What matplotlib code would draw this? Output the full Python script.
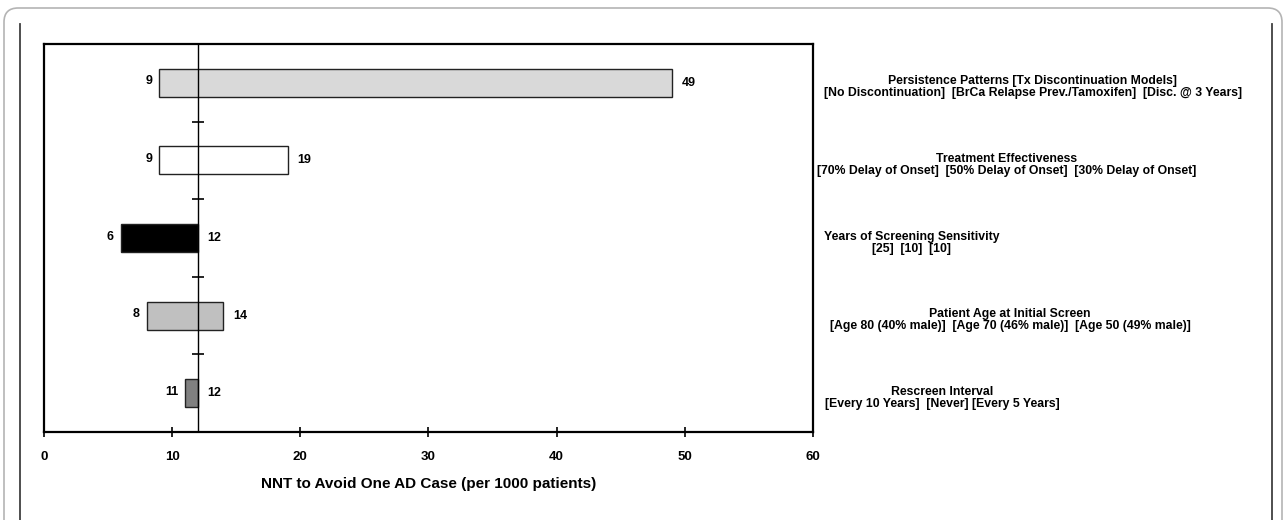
import matplotlib
matplotlib.use("Agg")
import matplotlib.pyplot as plt
import matplotlib.transforms as mtrans
from matplotlib.patches import FancyBboxPatch
from matplotlib.lines import Line2D

# data
baseline = 12
low_vals = [9, 9, 6, 8, 11]
high_vals = [49, 19, 12, 14, 12]
left_labels = ["9", "9", "6", "8", "11"]
right_labels = ["49", "19", "12", "14", "12"]
bar_colors = ["#d9d9d9", "#ffffff", "#000000", "#c0c0c0", "#808080"]
titles = ["Persistence Patterns [Tx Discontinuation Models]",
          "Treatment Effectiveness",
          "Years of Screening Sensitivity",
          "Patient Age at Initial Screen",
          "Rescreen Interval"]
subtitles = ["[No Discontinuation]  [BrCa Relapse Prev./Tamoxifen]  [Disc. @ 3 Years]",
             "[70% Delay of Onset]  [50% Delay of Onset]  [30% Delay of Onset]",
             "[25]  [10]  [10]",
             "[Age 80 (40% male)]  [Age 70 (46% male)]  [Age 50 (49% male)]",
             "[Every 10 Years]  [Never] [Every 5 Years]"]
label_x = [1033, 1007, 912, 1010, 942]   # text centre, pixels
xticks = [0, 10, 20, 30, 40, 50, 60]
xlabel = "NNT to Avoid One AD Case (per 1000 patients)"

plt.rcParams['font.family'] = ['Liberation Sans', 'DejaVu Sans']
plt.rcParams['font.weight'] = 'bold'

W, H = 1286, 520
fig = plt.figure(figsize=(W / 100, H / 100), dpi=100)
ax = fig.add_axes([44 / W, 1 - 432 / H, (813 - 44) / W, (432 - 44) / H])

# outer rounded frame and inner panel lines
fig.patches.append(FancyBboxPatch((4 / W, -0.1), (W - 8) / W, 1.1 - 8 / H,
                                  boxstyle="round,pad=0,rounding_size=0.011",
                                  transform=fig.transFigure, fill=False,
                                  ec="#b4b4b4", lw=1.2, mutation_aspect=W / H))
for px in (20, 1272):
    fig.lines.append(Line2D([px / W, px / W], [0, 1 - 24 / H], transform=fig.transFigure,
                            color="#404040", lw=1.3))

ypos = list(range(len(low_vals)))
widths = [h - l for l, h in zip(low_vals, high_vals)]
ax.barh(ypos, widths, left=low_vals, height=0.36, color=bar_colors,
        edgecolor="#222222", linewidth=1, zorder=2)

ax.axvline(baseline, color="black", lw=1, zorder=3)
ax.plot([baseline] * (len(ypos) - 1), [y + 0.5 for y in ypos[:-1]], ls="none",
        marker="_", markersize=8, color="black", mew=1.2, zorder=3)

for y, lo, hi, ll, rl in zip(ypos, low_vals, high_vals, left_labels, right_labels):
    ax.annotate(ll, (lo, y), xytext=(-5, 1), textcoords="offset points",
                ha="right", va="center", fontsize=9, fontweight="bold")
    ax.annotate(rl, (hi, y), xytext=(7, 0), textcoords="offset points",
                ha="left", va="center", fontsize=9, fontweight="bold")

tr = mtrans.blended_transform_factory(fig.transFigure, ax.transData)
for y, t, s, cx in zip(ypos, titles, subtitles, label_x):
    ax.text(cx / W, y + 0.06, t, transform=tr, ha="center", va="bottom",
            fontsize=8.8, fontweight="bold", clip_on=False)
    ax.text(cx / W, y + 0.06, s, transform=tr, ha="center", va="top",
            fontsize=8.8, fontweight="bold", clip_on=False)

ax.set_xlim(0, 60)
ax.set_ylim(len(ypos) - 0.5, -0.5)
ax.set_xticks(xticks)
ax.set_xticklabels([str(v) for v in xticks], fontsize=9.5, fontweight="bold")
ax.set_yticks([])
ax.tick_params(axis="x", direction="inout", length=7, width=1.2, pad=10)
for sp in ax.spines.values():
    sp.set_linewidth(1.6)
ax.set_xlabel(xlabel, fontsize=11, fontweight="bold", labelpad=10)

fig.savefig("out.png", dpi=100)
